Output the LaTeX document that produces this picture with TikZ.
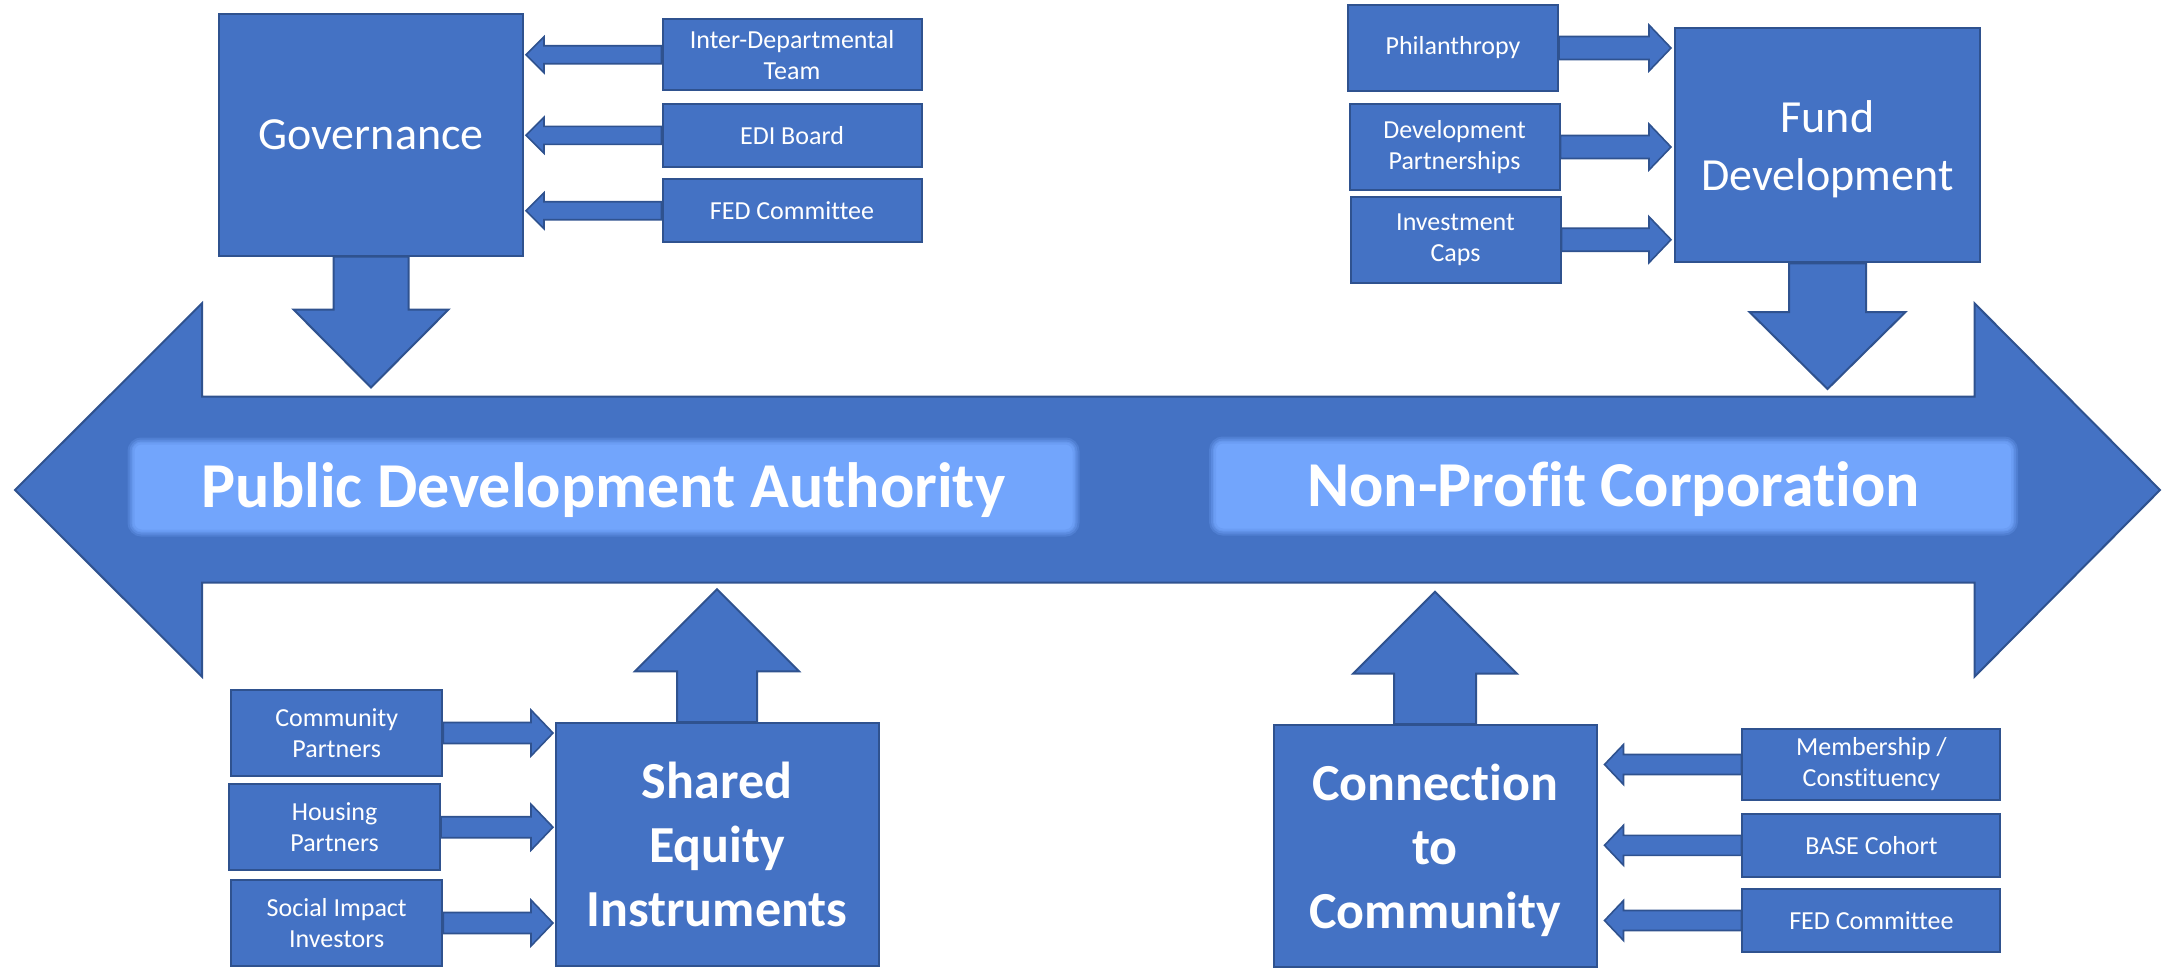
\documentclass[tikz,border=0pt]{standalone}
\usepackage{fontspec}
\setmainfont{Carlito}[Ligatures=NoCommon]
\usetikzlibrary{calc,positioning}

\definecolor{office}{HTML}{4472C4}
\definecolor{officeline}{HTML}{2F528F}
\definecolor{glow}{HTML}{72A5FC}

\pgfdeclarelayer{back}
\pgfsetlayers{back,main}

% block arrow from #1 to tip #2: shaft half width #3, head half width #4, head length #5
\newcommand{\blockarrow}[5]{%
  \draw[blockarrow] ($(#1)!#3!90:(#2)$)
    -- ($($(#2)!#5!(#1)$)!#3!90:(#2)$)
    -- ($($(#2)!#5!(#1)$)!#4!90:(#2)$)
    -- (#2)
    -- ($($(#2)!#5!(#1)$)!#4!-90:(#2)$)
    -- ($($(#2)!#5!(#1)$)!#3!-90:(#2)$)
    -- ($(#1)!#3!-90:(#2)$) -- cycle;}

\begin{document}
\begin{tikzpicture}[x=1pt, y=-1pt, line join=miter,
    block/.style={draw=officeline, line width=2pt, fill=office, text=white, align=center, inner sep=0pt},
    bigbox/.style={block, font=\fontsize{46}{58}\selectfont},
    boldbox/.style={block, font=\fontsize{52}{64}\selectfont\bfseries},
    smallbox/.style={block, font=\fontsize{26}{31}\selectfont},
    blockarrow/.style={draw=officeline, line width=1.6pt, fill=office},
    glowbox/.style={fill=glow, draw=glow!85!office, line width=2pt, rounded corners=8pt,
      text=white, inner sep=0pt, font=\fontsize{64}{70}\selectfont\bfseries,
      text height=41pt, text depth=0pt,
      preaction={draw=glow!25!office, line width=12pt},
      preaction={draw=glow!50!office, line width=8pt},
      preaction={draw=glow!72!office, line width=4pt}}]

  \useasboundingbox (0,0) rectangle (2167,967);

  % the long double arrow
  \draw[blockarrow, line width=2pt] (15,490) -- (202,303.3) -- (202,396.7) -- (1974.5,396.7)
    -- (1974.5,303.3) -- (2160,490) -- (1974.5,676.7) -- (1974.5,582.7)
    -- (202,582.7) -- (202,676.7) -- cycle;

  \node[glowbox, minimum width=940pt, minimum height=87pt] (pda) at (603.5,487) {Public Development Authority};
  \node[glowbox, minimum width=797pt, minimum height=87pt] (npc) at (1613.5,486) {Non-Profit Corporation};

  % governance
  \node[bigbox, minimum width=304pt, minimum height=242pt] (gov) at (371,134.5) {Governance};
  \node[smallbox, minimum width=259pt, minimum height=71pt] (ida) at (792,54.7) {Inter-Departmental\\Team};
  \node[smallbox, minimum width=259pt, minimum height=63pt] (edi) at (792,135.3) {EDI Board};
  \node[smallbox, minimum width=259pt, minimum height=63pt] (fedg) at (792,210.7) {FED Committee};

  % fund development
  \node[bigbox, minimum width=305pt, minimum height=234pt, text depth=0pt] (fund) at (1827.5,145.3) {Fund\\Development};
  \node[smallbox, minimum width=210pt, minimum height=86pt] (phil) at (1453,48) {Philanthropy};
  \node[smallbox, minimum width=210pt, minimum height=86pt] (devp) at (1454.5,147) {Development\\Partnerships};
  \node[smallbox, minimum width=210pt, minimum height=86pt] (inv) at (1455.5,239.7) {Investment\\Caps};

  % shared equity
  \node[boldbox, minimum width=323pt, minimum height=243pt] (sei) at (717,844.5) {Shared\\Equity\\Instruments};
  \node[smallbox, minimum width=211pt, minimum height=86pt] (comp) at (336.7,733) {Community\\Partners};
  \node[smallbox, minimum width=211pt, minimum height=86pt] (hous) at (334.6,827.2) {Housing\\Partners};
  \node[smallbox, minimum width=211pt, minimum height=86pt] (sii) at (336.7,923) {Social Impact\\Investors};

  % connection to community
  \node[boldbox, minimum width=323pt, minimum height=242pt, text depth=0pt] (conn) at (1435,846) {Connection\\to\\Community};
  \node[smallbox, minimum width=258pt, minimum height=71pt] (memb) at (1871.4,764.5) {Membership /\\Constituency};
  \node[smallbox, minimum width=258pt, minimum height=63pt] (base) at (1871.4,845.3) {BASE Cohort};
  \node[smallbox, minimum width=258pt, minimum height=63pt] (fedc) at (1871.4,920.5) {FED Committee};

  % arrow tips
  \foreach \n in {ida,edi,fedg} \coordinate (tip\n) at ($(gov.east|-\n.west)+(2,0)$);
  \foreach \n in {phil,devp,inv} \coordinate (tip\n) at ($(fund.west|-\n.east)+(-3,0)$);
  \foreach \n in {comp,hous,sii} \coordinate (tip\n) at ($(sei.west|-\n.east)+(-1.5,0)$);
  \foreach \n in {memb,base,fedc} \coordinate (tip\n) at ($(conn.east|-\n.west)+(7,0)$);
  \coordinate (govtip) at ($(gov.south)+(0,131)$);
  \coordinate (fundtip) at ($(fund.south)+(0,125.7)$);
  \coordinate (seitip) at ($(sei.north)+(0,-132.7)$);
  \coordinate (conntip) at ($(conn.north)+(0,-132.3)$);

  \begin{pgfonlayer}{back}
    \foreach \n in {ida,edi,fedg} \blockarrow{\n.west}{tip\n}{9pt}{18pt}{18pt};
    \foreach \n in {phil,devp,inv} \blockarrow{\n.east}{tip\n}{11.5pt}{23pt}{22pt};
    \foreach \n in {comp,hous,sii} \blockarrow{\n.east}{tip\n}{10.5pt}{23pt}{22pt};
    \foreach \n in {memb,base,fedc} \blockarrow{\n.west}{tip\n}{10pt}{20pt}{19pt};
    \begin{scope}[blockarrow/.append style={line width=2pt}]
      \blockarrow{gov.south}{govtip}{37.5pt}{77.5pt}{78pt}
      \blockarrow{fund.south}{fundtip}{38.5pt}{78pt}{77pt}
      \blockarrow{sei.north}{seitip}{40pt}{82pt}{82pt}
      \blockarrow{conn.north}{conntip}{41pt}{82pt}{82pt}
    \end{scope}
  \end{pgfonlayer}
\end{tikzpicture}
\end{document}
